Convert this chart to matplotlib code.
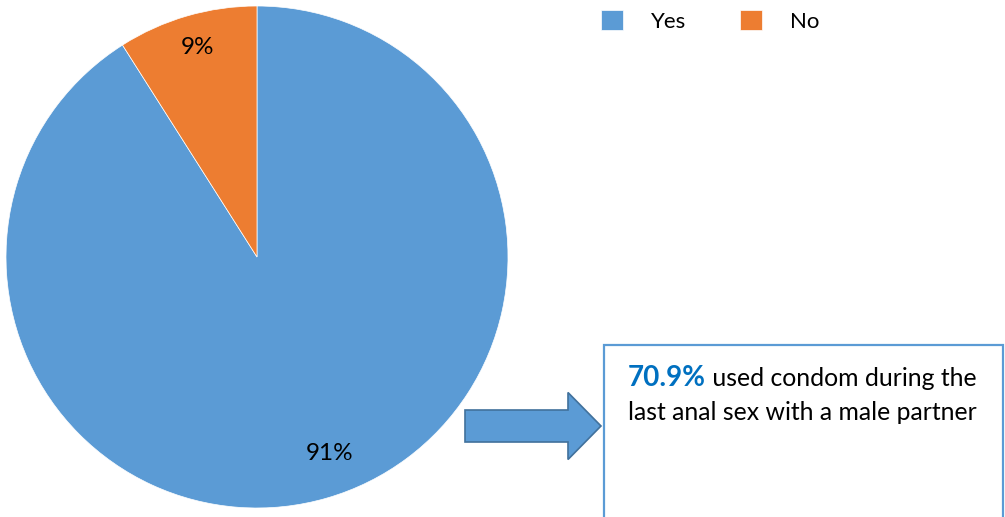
import matplotlib.pyplot as plt
from matplotlib.patches import Rectangle, FancyArrow

labels = ['Yes', 'No']
values = [91, 9]
colors = ['#5B9BD5', '#ED7D31']
box_highlight = '70.9%'
box_rest = ' used condom during the'
box_line2 = 'last anal sex with a male partner'

plt.rcParams['font.family'] = ['Lato', 'DejaVu Sans']

W, H = 1005, 517
fig = plt.figure(figsize=(W / 100, H / 100), dpi=100)
ax = fig.add_axes([0, 0, 1, 1])

# pastel: la torta empieza arriba y va en sentido horario
wedges, _, autotexts = ax.pie(values, colors=colors, startangle=90, counterclock=False,
                              center=(257, H - 257), radius=251, autopct='%d%%',
                              pctdistance=0.86, frame=True,
                              wedgeprops=dict(edgecolor='white', linewidth=0.5),
                              textprops=dict(fontsize=17.5, color='black'))
ax.set_xlim(0, W)
ax.set_ylim(0, H)
ax.set_aspect('equal')
ax.axis('off')
autotexts[0].set_position((330, H - 453))
autotexts[1].set_position((197, H - 48))

# leyenda arriba
fig.legend(wedges, labels, loc='upper left', bbox_to_anchor=(601 / W, 1 - 10 / H), ncol=2,
           frameon=False, fontsize=16, handlelength=1.0, handleheight=1.0,
           handletextpad=1.25, columnspacing=2.4, borderpad=0, borderaxespad=0)

# flecha
ax.add_patch(FancyArrow(465, H - 426, 136, 0, width=32, head_width=67, head_length=33,
                        length_includes_head=True, facecolor='#5B9BD5', edgecolor='#41719C',
                        linewidth=1.2))

# cuadro de texto
ax.add_patch(Rectangle((604, -10), 399, H - 345 + 10, facecolor='white',
                       edgecolor='#5B9BD5', linewidth=1.6))
t1 = ax.text(628, H - 386, box_highlight, fontsize=20, fontweight='bold', color='#0070C0')
fig.canvas.draw()
bb = t1.get_window_extent(fig.canvas.get_renderer())
x1 = ax.transData.inverted().transform((bb.x1, 0))[0]
ax.text(x1, H - 386, box_rest, fontsize=17.8, color='black')
ax.text(628, H - 420, box_line2, fontsize=17.8, color='black')

fig.savefig('out.png', dpi=100)
